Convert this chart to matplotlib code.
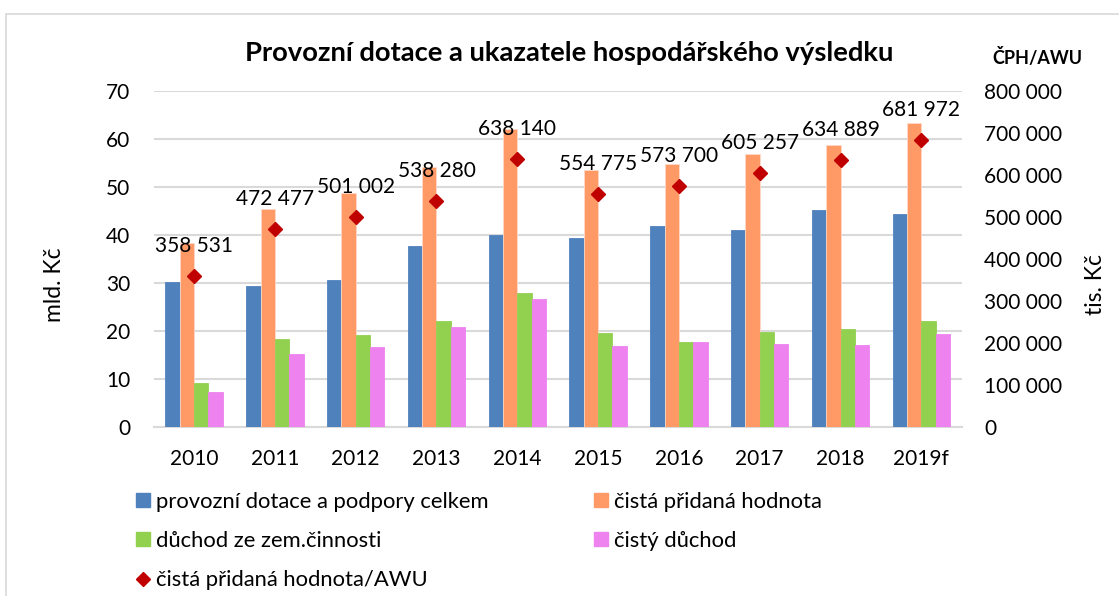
import numpy as np
import matplotlib
matplotlib.use('Agg')
import matplotlib.pyplot as plt
from matplotlib.patches import Patch
from matplotlib.lines import Line2D
from matplotlib.ticker import FuncFormatter, MultipleLocator

plt.rcParams['font.family'] = ['Lato', 'DejaVu Sans']

years = ['2010', '2011', '2012', '2013', '2014', '2015', '2016', '2017', '2018', '2019f']
dotace = [30.3, 29.4, 30.7, 37.7, 40.0, 39.3, 41.8, 41.0, 45.1, 44.3]
cph = [38.3, 45.5, 48.8, 54.2, 62.1, 53.5, 54.7, 56.8, 58.7, 63.2]
duchod_zem = [9.2, 18.4, 19.1, 22.2, 27.9, 19.6, 17.8, 19.8, 20.5, 22.2]
cisty_duchod = [7.3, 15.3, 16.7, 20.9, 26.6, 16.8, 17.7, 17.4, 17.2, 19.5]
cph_awu = [358531, 472477, 501002, 538280, 638140, 554775, 573700, 605257, 634889, 681972]

labels = ['provozní dotace a podpory celkem', 'čistá přidaná hodnota',
          'důchod ze zem.činnosti', 'čistý důchod', 'čistá přidaná hodnota/AWU']
colors = ['#4F81BD', '#FF9966', '#92D050', '#EE82EE']
diamond_color = '#C00000'
grid_color = '#D9D9D9'


def space_fmt(v, pos):
    return f'{int(round(v)):,}'.replace(',', ' ')


fig = plt.figure(figsize=(11.19, 5.96), dpi=100)
ax = fig.add_axes([0.1373, 0.2831, 0.7222, 0.5647])
ax2 = ax.twinx()

x = np.arange(len(years))
w = 0.71 / 4
series = [dotace, cph, duchod_zem, cisty_duchod]
for k, (vals, c) in enumerate(zip(series, colors)):
    edge = '#FFD9C7' if k == 1 else c
    ax.bar(x + (k - 1.5) * w, vals, width=w, color=c, edgecolor=edge,
           linewidth=0.6, zorder=3)

ax.set_xlim(-0.5, len(years) - 0.5)
ax.set_ylim(0, 70)
ax.yaxis.set_major_locator(MultipleLocator(10))
ax.grid(axis='y', color=grid_color, linewidth=1.5, zorder=0)
ax.set_axisbelow(True)
ax.set_xticks(x)
ax.set_xticklabels(years)
ax.tick_params(axis='x', length=0, pad=16, labelsize=15)
ax.tick_params(axis='y', length=0, pad=17, labelsize=15)
for s in ['top', 'right', 'left']:
    ax.spines[s].set_visible(False)
ax.spines['bottom'].set_color(grid_color)
ax.spines['bottom'].set_linewidth(1.5)

ax2.plot(x, cph_awu, linestyle='none', marker='D', markersize=7,
         color=diamond_color, zorder=5)
for xi, v in zip(x, cph_awu):
    ax2.annotate(space_fmt(v, None), (xi, v), xytext=(0, 21.6),
                 textcoords='offset points', ha='center', va='center',
                 fontsize=15)
ax2.set_ylim(0, 800000)
ax2.yaxis.set_major_locator(MultipleLocator(100000))
ax2.yaxis.set_major_formatter(FuncFormatter(space_fmt))
ax2.tick_params(axis='y', length=0, pad=16, labelsize=15)
for s in ax2.spines.values():
    s.set_visible(False)

fig.text(0.509, 0.911, 'Provozní dotace a ukazatele hospodářského výsledku',
         ha='center', va='center', fontsize=19.7, fontweight='bold')
fig.text(0.927, 0.904, 'ČPH/AWU', ha='center', va='center',
         fontsize=13, fontweight='bold')
fig.text(0.049, 0.523, 'mld. Kč', rotation=90, ha='center', va='center', fontsize=16.5)
fig.text(0.979, 0.523, 'tis. Kč', rotation=90, ha='center', va='center', fontsize=16.5)

# legend: excel order is row-wise, matplotlib fills columns
handles = [Patch(color=colors[0]), Patch(color=colors[2]),
           Line2D([], [], linestyle='none', marker='D', markersize=7, color=diamond_color),
           Patch(color=colors[1]), Patch(color=colors[3])]
order_labels = [labels[0], labels[2], labels[4], labels[1], labels[3]]
fig.legend(handles, order_labels, ncol=2, loc='upper left',
           bbox_to_anchor=(0.114, 0.19), frameon=False, fontsize=15.8,
           handlelength=0.64, handleheight=0.64, handletextpad=0.27,
           labelspacing=0.88, columnspacing=4.8, borderaxespad=0)

# outer chart frame
fig.add_artist(Line2D([6 / 1119, 6 / 1119], [-0.1, 1 - 14 / 596],
                      transform=fig.transFigure, color=grid_color, linewidth=1.2))
fig.add_artist(Line2D([6 / 1119, 1.1], [1 - 14 / 596, 1 - 14 / 596],
                      transform=fig.transFigure, color=grid_color, linewidth=1.2))

fig.savefig('out.png', dpi=100)
